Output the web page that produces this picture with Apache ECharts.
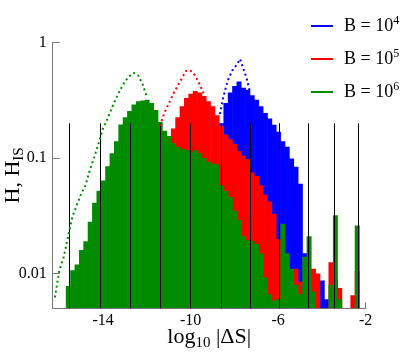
<!DOCTYPE html>
<html><head><meta charset="utf-8">
<script src="https://cdn.jsdelivr.net/npm/echarts@6/dist/echarts.min.js"></script>
<style>html,body{margin:0;padding:0;background:#fff}#c{width:409px;height:355px}</style>
</head><body><div id="c"></div>
<script>
// ---- data ----
const binWidth = 0.2;
const seriesNames = ['B = 10^4', 'B = 10^5', 'B = 10^6'];

const blueStart = -8.7;
const blueH = [0.2, 0.3, 0.37, 0.42, 0.46, 0.405, 0.39, 0.35, 0.32, 0.28, 0.245, 0.22, 0.194, 0.169, 0.14, 0.125, 0.099, 0.084, 0.06, 0.015, 0, 0, 0.0065, 0.0087, 0.006];

const redStart = -11.3;
const redH = [0.12, 0.148, 0.18, 0.225, 0.28, 0.33, 0.36, 0.38, 0.37, 0.345, 0.31, 0.28, 0.235, 0.19, 0.16, 0.145, 0.132, 0.115, 0.105, 0.098, 0.075, 0.07, 0.058, 0.048, 0.042, 0.033, 0.02, 0.016, 0.014, 0.0105, 0.011, 0.0085, 0.0065, 0, 0.011, 0.010, 0, 0, 0.0125, 0.009, 0.0075, 0, 0, 0.0065, 0.0105, 0];

const greenStart = -15.7;
const greenH = [0.0078, 0.0107, 0.012, 0.016, 0.019, 0.028, 0.041, 0.052, 0.064, 0.085, 0.11, 0.14, 0.195, 0.225, 0.255, 0.29, 0.31, 0.315, 0.32, 0.30, 0.26, 0.205, 0.172, 0.155, 0.135, 0.125, 0.12, 0.117, 0.113, 0.117, 0.11, 0.10, 0.093, 0.089, 0.088, 0.058, 0.052, 0.046, 0.035, 0.029, 0.021, 0.0194, 0.019, 0.018, 0.015, 0.0093, 0.0066, 0.0058, 0.006, 0.027, 0.015, 0.011, 0.008, 0.0066, 0.014, 0.021, 0.007, 0, 0, 0, 0.008, 0.032, 0.006, 0, 0, 0, 0.026, 0];

const blueISx = [-8.66, -8.5, -8.3, -8.1, -7.9, -7.74, -7.6, -7.45, -7.3];
const blueISy = [0.24, 0.34, 0.47, 0.57, 0.64, 0.72, 0.6, 0.5, 0.38];
const redISx = [-11.4, -11.2, -11.0, -10.8, -10.6, -10.4, -10.2, -10.0, -9.8, -9.6, -9.4];
const redISy = [0.19, 0.245, 0.295, 0.355, 0.42, 0.49, 0.57, 0.57, 0.52, 0.44, 0.36];
const greenISx = [-16.2, -16.0, -15.8, -15.6, -15.4, -15.2, -15.0, -14.8, -14.6, -14.4, -14.2, -14.0, -13.8, -13.6, -13.4, -13.2, -13.0, -12.8, -12.6, -12.4, -12.2, -12.0];
const greenISy = [0.0062, 0.0106, 0.0138, 0.0207, 0.031, 0.039, 0.049, 0.058, 0.079, 0.102, 0.135, 0.181, 0.218, 0.27, 0.33, 0.395, 0.46, 0.51, 0.545, 0.52, 0.44, 0.34];

const markerX = [-15.57, -14.13, -12.76, -11.39, -10.01, -8.63, -7.29, -5.95, -4.65, -3.45, -2.34];
const markerTop = 0.2;

const xTicks = [-14, -10, -6, -2];
const xMin = -16.3, xMax = -2;
const yMin = 0.005, yMax = 1;

// ---- styles ----
const colors = ['#0000ff', '#ff0000', '#008b00'];
const FONT = "'Liberation Serif', 'Times New Roman', serif";

function bins(start, vals) {
  const out = [];
  vals.forEach((v, i) => { if (v > 0) out.push([start + i * binWidth, start + (i + 1) * binWidth, v]); });
  return out;
}
function histRender(color) {
  return function (params, api) {
    const x0 = api.value(0), x1 = api.value(1), v = api.value(2);
    const a = api.coord([x0, v]);
    const b = api.coord([x1, v]);
    const cs = params.coordSys;
    const bottom = cs.y + cs.height;
    const top = Math.max(a[1], cs.y);
    if (top >= bottom) return null;
    return { type: 'rect', shape: { x: a[0], y: top, width: b[0] - a[0] + 0.6, height: bottom - top }, style: { fill: color } };
  };
}
function pairs(xs, ys) { return xs.map((x, i) => [x, ys[i]]); }

const histData = [bins(blueStart, blueH), bins(redStart, redH), bins(greenStart, greenH)];
const isData = [pairs(blueISx, blueISy), pairs(redISx, redISy), pairs(greenISx, greenISy)];

const series = [];
for (let k = 0; k < 3; k++) {
  series.push({
    type: 'custom', name: seriesNames[k], data: histData[k], encode: { x: [0, 1], y: 2 },
    renderItem: histRender(colors[k]), itemStyle: { color: colors[k] }, clip: true, z: 2 + k
  });
}
series.push({
  type: 'custom', name: 'markers', data: markerX.map(x => [x, markerTop]), encode: { x: 0, y: 1 },
  renderItem: function (params, api) {
    const p = api.coord([api.value(0), api.value(1)]);
    const cs = params.coordSys;
    const x = Math.round(p[0]) + 0.5;
    return { type: 'line', shape: { x1: x, y1: p[1], x2: x, y2: cs.y + cs.height }, style: { stroke: '#000', lineWidth: 1 } };
  }, z: 6, silent: true
});
for (let k = 0; k < 3; k++) {
  series.push({
    type: 'line', name: seriesNames[k] + ' IS', data: isData[k], symbol: 'none', z: 7,
    lineStyle: { color: colors[k], width: 2, type: [2, 3], cap: 'butt' }, silent: true
  });
}

const chart = echarts.init(document.getElementById('c'), null, { renderer: 'canvas' });
chart.setOption({
  animation: false,
  backgroundColor: '#fff',
  color: colors,
  grid: { left: 52.7, right: 43.3, top: 42.5, bottom: 46.7, containLabel: false, outerBoundsMode: 'none' },
  legend: {
    data: seriesNames, orient: 'vertical', left: 306, top: 10, itemWidth: 22, itemHeight: 2, itemGap: 11,
    icon: 'rect', formatter: n => 'B = 10{sup|' + n.slice(-1) + '}',
    textStyle: { fontFamily: FONT, fontSize: 18, color: '#000', lineHeight: 22, padding: [0, 0, 0, 6],
      rich: { sup: { fontFamily: FONT, fontSize: 12, lineHeight: 12, verticalAlign: 'top', color: '#000' } } }
  },
  xAxis: {
    type: 'value', min: xMin, max: xMax,
    axisLine: { show: true, onZero: false, lineStyle: { color: '#777', width: 1 } },
    axisTick: { show: true, inside: true, length: 6, customValues: xTicks, lineStyle: { color: '#777' } },
    axisLabel: { customValues: xTicks, fontFamily: FONT, fontSize: 16, color: '#000', margin: 4 },
    splitLine: { show: false },
    name: 'log{sub|10} |ΔS|', nameLocation: 'middle', nameGap: 16, nameMoveOverlap: false,
    nameTextStyle: { fontFamily: FONT, fontSize: 22, color: '#000', lineHeight: 26,
      rich: { sub: { fontFamily: FONT, fontSize: 15, lineHeight: 14, verticalAlign: 'bottom', color: '#000' } } }
  },
  yAxis: {
    type: 'log', logBase: 10, min: yMin, max: yMax,
    axisLine: { show: true, lineStyle: { color: '#777', width: 1 } },
    axisTick: { show: true, inside: true, length: 7, lineStyle: { color: '#777' } },
    minorTick: { show: false },
    axisLabel: { showMinLabel: false, fontFamily: FONT, fontSize: 16, color: '#000', margin: 6 },
    splitLine: { show: false },
    name: 'H, H{sub|IS}', nameLocation: 'middle', nameGap: 26, nameRotate: 90, nameMoveOverlap: false,
    nameTextStyle: { fontFamily: FONT, fontSize: 22, color: '#000', lineHeight: 26,
      rich: { sub: { fontFamily: FONT, fontSize: 15, lineHeight: 14, verticalAlign: 'bottom', color: '#000' } } }
  },
  series: series
});
</script>
</body></html>
